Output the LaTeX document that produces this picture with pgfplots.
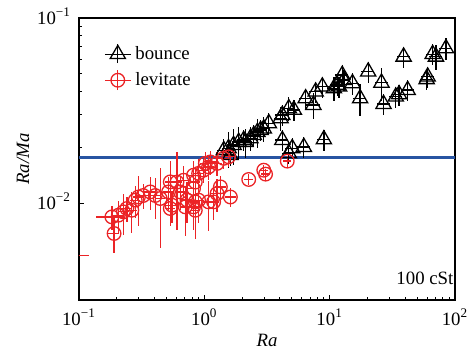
\documentclass[border=0pt]{standalone}
\usepackage{fontspec}
\setmainfont{Liberation Serif}
\usepackage{pgfplots}
\usepackage{pgfplotstable}
\pgfplotsset{compat=1.18}
\definecolor{redc}{RGB}{235,35,38}
\definecolor{bluel}{RGB}{40,84,162}

\pgfplotstableread{
x y ex ey
84.7 0.0686 0.12 0.13
66.3 0.0638 0.12 0.13
70.5 0.0618 0.12 0.15
38.9 0.0618 0.12 0.13
60.5 0.0482 0.12 0.13
59.4 0.0467 0.12 0.13
41.9 0.0408 0.12 0.13
35.8 0.0387 0.12 0.13
33.7 0.0376 0.12 0.13
26.9 0.0343 0.12 0.13
25.9 0.0447 0.12 0.20
20.3 0.0513 0.12 0.13
17.5 0.0368 0.12 0.20
15.2 0.0444 0.12 0.13
12.6 0.0492 0.12 0.13
13.0 0.0462 0.12 0.13
11.9 0.0426 0.12 0.13
10.8 0.0417 0.12 0.15
11.5 0.0435 0.12 0.13
8.74 0.0426 0.12 0.13
7.73 0.0400 0.12 0.13
6.43 0.0368 0.12 0.13
7.41 0.0339 0.12 0.16
5.18 0.0319 0.12 0.13
4.72 0.0325 0.12 0.15
4.19 0.0299 0.12 0.13
4.06 0.0287 0.12 0.15
3.27 0.0270 0.12 0.13
2.98 0.0253 0.12 0.15
2.81 0.0248 0.12 0.13
2.65 0.0242 0.12 0.18
2.48 0.0233 0.12 0.13
2.33 0.0224 0.12 0.15
2.13 0.0214 0.12 0.18
2.06 0.0219 0.12 0.13
1.88 0.0214 0.12 0.20
1.71 0.0206 0.12 0.22
1.56 0.0198 0.12 0.22
1.43 0.0193 0.12 0.15
4.19 0.0219 0.12 0.13
5.03 0.0198 0.12 0.13
6.22 0.0201 0.12 0.13
8.99 0.0221 0.12 0.13
4.72 0.0186 0.12 0.13
1.61 0.0182 0.12 0.13
}\bounce

\pgfplotstableread{
x y ex ey
0.08 0.00524 0.5 0.0
0.183 0.00843 0.25 0.15
0.1905 0.00686 0.10 0.22
0.206 0.00861 0.10 0.20
0.226 0.00898 0.10 0.25
0.241 0.00936 0.10 0.15
0.264 0.00916 0.10 0.25
0.281 0.01038 0.10 0.20
0.298 0.0108 0.10 0.30
0.325 0.0110 0.10 0.15
0.370 0.0115 0.10 0.20
0.406 0.0110 0.10 0.25
0.445 0.0106 0.10 0.46
0.518 0.0115 0.10 0.20
0.535 0.00936 0.10 0.20
0.535 0.01303 0.10 0.30
0.605 0.0130 0.10 0.45
0.683 0.0133 0.10 0.20
0.643 0.0115 0.10 0.20
0.727 0.0104 0.10 0.25
0.847 0.01016 0.10 0.20
0.847 0.00916 0.10 0.30
0.820 0.0120 0.10 0.25
0.847 0.0130 0.10 0.20
0.900 0.01449 0.10 0.20
0.986 0.01507 0.10 0.15
1.082 0.0157 0.10 0.15
1.186 0.01016 0.10 0.20
1.264 0.01127 0.10 0.20
1.343 0.01225 0.10 0.15
1.614 0.0108 0.10 0.12
1.264 0.0164 0.10 0.15
1.426 0.01746 0.10 0.12
1.563 0.0178 0.10 0.12
2.26 0.01343 0.08 0.07
2.98 0.01507 0.08 0.07
3.08 0.01435 0.08 0.07
4.59 0.01687 0.08 0.07
1.117 0.0167 0.10 0.15
1.019 0.0164 0.10 0.15
0.82 0.01416 0.10 0.20
0.82 0.00955 0.10 0.25
0.900 0.01038 0.10 0.25
0.705 0.00955 0.10 0.30
1.082 0.01016 0.10 0.30
0.552 0.00975 0.10 0.20
}\levitate

\begin{document}
\begin{tikzpicture}[font=\fontsize{9.4}{11}\selectfont]
\useasboundingbox (-39.5pt,-26.5pt) rectangle (198pt,150pt);
\begin{axis}[
  scale only axis, width=188pt, height=141pt,
  at={(0,0)}, anchor=south west,
  xmode=log, ymode=log,
  xmin=0.1, xmax=100, ymin=3e-3, ymax=0.1,
  xtick={0.1,1,10,100},
  xticklabels={10\textsuperscript{−1},10\textsuperscript{0},10\textsuperscript{1},10\textsuperscript{2}},
  ytick={0.01,0.1},
  yticklabels={10\textsuperscript{−2},10\textsuperscript{−1}},
  xtick pos=left, ytick pos=left,
  tick align=inside,
  major tick length=2.5pt, minor tick length=1.5pt,
  axis line style={line width=0.7pt},
  every tick/.style={black, line width=0.5pt},
  xticklabel style={anchor=base, yshift=-12.5pt},
  yticklabel style={anchor=base east, yshift=-3.2pt, xshift=-0.5pt},
  xlabel={\textit{Ra}}, ylabel={\textit{Ra/Ma}},
  xlabel style={at={(axis description cs:0.5,-0.145)}, anchor=center},
  ylabel style={at={(axis description cs:-0.149,0.5)}, anchor=center},
  legend style={draw=none, fill=none, at={(axis description cs:0.05,0.93)}, anchor=north west, row sep=1pt, font=\fontsize{9.4}{11}\selectfont},
  legend cell align=left,
  clip=true,
]
\addplot[bluel, line width=1.3pt, forget plot] coordinates {(0.1,0.0176) (100,0.0176)};
\addplot[black, only marks, mark=triangle, mark size=4.4pt, mark options={solid, line width=0.65pt},
  legend image code/.code={
    \draw[black, line width=0.6pt] (0pt,0pt) -- (13pt,0pt);
    \draw[black, line width=0.6pt] (6.5pt,-4.5pt) -- (6.5pt,5pt);
    \draw[black, line width=0.65pt] plot[mark=triangle, mark size=4.4pt] coordinates {(6.5pt,0pt)};
  },
  error bars/.cd, x dir=both, x explicit relative, y dir=both, y explicit relative, error mark=none,
  error bar style={line width=0.65pt, black}]
  table[x=x, y=y, x error=ex, y error=ey] {\bounce};
\addlegendentry{bounce}
\addplot[redc, only marks, mark=o, mark size=3.4pt, mark options={solid, line width=0.65pt},
  legend image code/.code={
    \draw[redc, line width=0.6pt] (0pt,0pt) -- (13pt,0pt);
    \draw[redc, line width=0.6pt] (6.5pt,-5pt) -- (6.5pt,5pt);
    \draw[redc, line width=0.65pt] plot[mark=o, mark size=3.4pt] coordinates {(6.5pt,0pt)};
  },
  error bars/.cd, x dir=both, x explicit relative, y dir=both, y explicit relative, error mark=none,
  error bar style={line width=0.65pt, redc}]
  table[x=x, y=y, x error=ex, y error=ey] {\levitate};
\addlegendentry{levitate}
\node[anchor=center] at (axis description cs:0.92,0.078) {100 cSt};
\end{axis}
\end{tikzpicture}
\end{document}
